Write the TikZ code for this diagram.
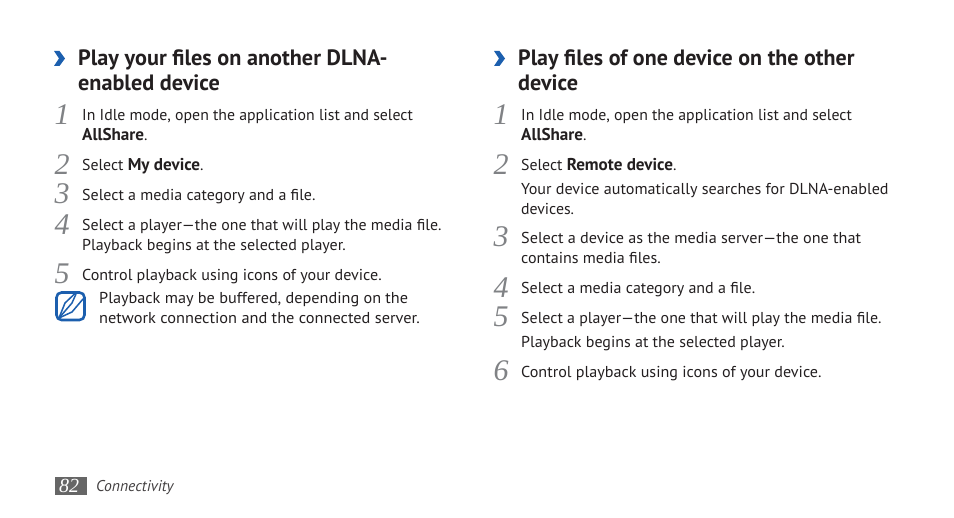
\documentclass[tikz,border=0pt]{standalone}
\usepackage{graphicx}
\usepackage{fontspec}
\setmainfont{PT Sans}
\newfontfamily\numfont{Liberation Serif}
\definecolor{bodyink}{HTML}{231F20}
\definecolor{numgrey}{HTML}{808285}
\definecolor{chevblue}{HTML}{1C5FAE}
\definecolor{foliobg}{HTML}{666666}
\newcommand{\bt}[1]{{\fontsize{17.1}{18}\selectfont\bfseries #1}}
\newcommand{\sx}[2]{\scalebox{#1}[1]{#2}}
\tikzset{
  x=1pt,y=-1pt,
  bodytxt/.style={anchor=base west,inner sep=0pt,yshift=-0.2pt,text=bodyink,font=\fontsize{15.8}{18}\selectfont},
  headtxt/.style={anchor=base west,inner sep=0pt,yshift=-0.5pt,text=bodyink,font=\fontsize{22.2}{24}\selectfont\bfseries},
  numtxt/.style={anchor=base,inner sep=0pt,text=numgrey,font=\fontsize{30}{32}\numfont\itshape},
  chev/.style={fill=chevblue,draw=none},
  penline/.style={draw=chevblue,line width=1.5pt,line join=round,line cap=round},
}
\newcommand{\chevron}[2]{\fill[chev] (#1,#2) -- ++(5.5,0) -- ++(5.5,7.5) -- ++(-5.5,7.5) -- ++(-5.5,0) -- ++(5,-7.5) -- cycle;}
\begin{document}
\begin{tikzpicture}
\useasboundingbox (0,0) rectangle (954,518);
\fill[white] (0,0) rectangle (954,518);
% left column
\chevron{54}{51}
\node[headtxt] (lh1) at (78,65) {Play your files on another DLNA-};
\node[headtxt] (lh2) at (78,90) {enabled device};
\node[numtxt] (ln1) at (62,125) {1};
\node[bodytxt] (l1a) at (82,120) {In Idle mode, open the application list and select};
\node[bodytxt] (l1b) at (82,140) {\bt{AllShare}.};
\node[numtxt] (ln2) at (62,175) {2};
\node[bodytxt] (l2) at (82,170) {Select \bt{My device}.};
\node[numtxt] (ln3) at (62,204) {3};
\node[bodytxt] (l3) at (82,200) {\sx{1.01}{Select a media category and a file.}};
\node[numtxt] (ln4) at (62,235) {4};
\node[bodytxt] (l4a) at (82,230) {\sx{1.005}{Select a player—the one that will play the media file.}};
\node[bodytxt] (l4b) at (82,250) {\sx{1.012}{Playback begins at the selected player.}};
\node[numtxt] (ln5) at (62,284) {5};
\node[bodytxt] (l5) at (82,280) {\sx{1.017}{Control playback using icons of your device.}};
\node[bodytxt] (n1) at (99,303) {\sx{1.027}{Playback may be buffered, depending on the}};
\node[bodytxt] (n2) at (99,323) {\sx{1.035}{network connection and the connected server.}};
% note icon
\draw[chevblue,line width=2.6pt,rounded corners=5pt,fill=white] (56.5,292.5) rectangle (84.5,320);
\draw[penline] (59,318) -- (65,303) -- (75,293.5);
\draw[penline] (59,318) -- (72,312) -- (83,299);
\draw[penline] (59,318) -- (72,303) -- (76,294);
% right column
\chevron{494}{51}
\node[headtxt] (rh1) at (518,65) {\sx{0.99}{Play files of one device on the other}};
\node[headtxt] (rh2) at (518,90) {device};
\node[numtxt] (rn1) at (501,125) {1};
\node[bodytxt] (r1a) at (521,120) {In Idle mode, open the application list and select};
\node[bodytxt] (r1b) at (521,140) {\bt{AllShare}.};
\node[numtxt] (rn2) at (501,175) {2};
\node[bodytxt] (r2a) at (521,170) {Select \bt{Remote device}.};
\node[bodytxt] (r2b) at (521,194) {\sx{1.02}{Your device automatically searches for DLNA-enabled}};
\node[bodytxt] (r2c) at (521,214) {devices.};
\node[numtxt] (rn3) at (501,247) {3};
\node[bodytxt] (r3a) at (521,243) {\sx{1.024}{Select a device as the media server—the one that}};
\node[bodytxt] (r3b) at (521,263) {\sx{1.014}{contains media files.}};
\node[numtxt] (rn4) at (501,298) {4};
\node[bodytxt] (r4) at (521,293) {\sx{1.013}{Select a media category and a file.}};
\node[numtxt] (rn5) at (501,327) {5};
\node[bodytxt] (r5a) at (521,323) {\sx{1.008}{Select a player—the one that will play the media file.}};
\node[bodytxt] (r5b) at (521,347) {\sx{1.012}{Playback begins at the selected player.}};
\node[numtxt] (rn6) at (501,381) {6};
\node[bodytxt] (r6) at (521,377) {\sx{1.02}{Control playback using icons of your device.}};
% footer
\fill[foliobg] (55,477) rectangle (87,495);
\node[anchor=base,inner sep=0pt,text=white,font=\fontsize{20}{22}\numfont\itshape] (pg) at (69,492.5) {82};
\node[anchor=base west,inner sep=0pt,text=bodyink!85,font=\fontsize{15.6}{17}\selectfont\itshape] (sec) at (96,491.8) {Connectivity};
\end{tikzpicture}
\end{document}
